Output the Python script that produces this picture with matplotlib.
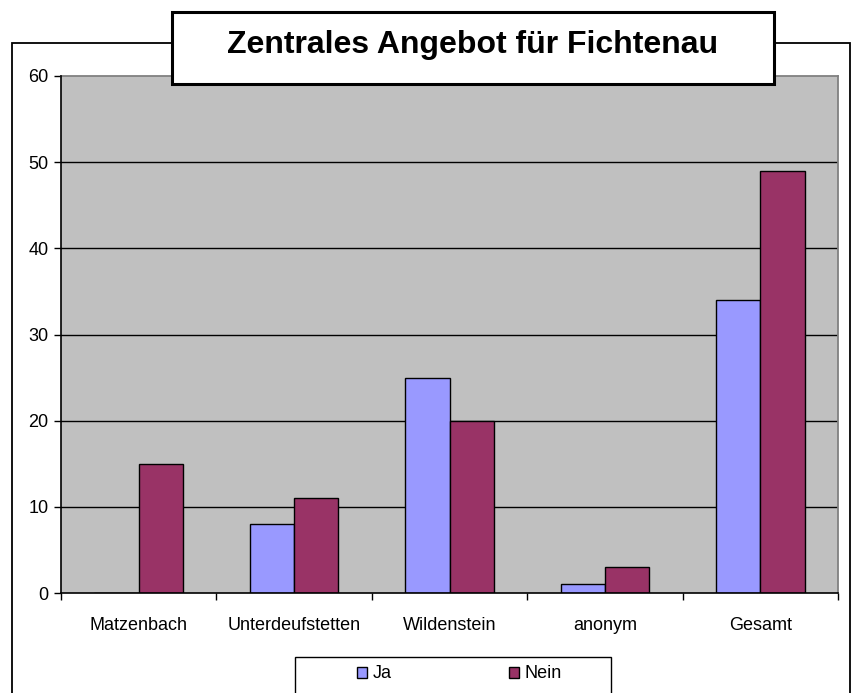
import matplotlib
matplotlib.use("Agg")
import matplotlib.pyplot as plt
from matplotlib.patches import Rectangle
import numpy as np

plt.rcParams['font.family'] = ['Liberation Sans', 'DejaVu Sans']

categories = ["Matzenbach", "Unterdeufstetten", "Wildenstein", "anonym", "Gesamt"]
ja = [0, 8, 25, 1, 34]
nein = [15, 11, 20, 3, 49]
yticks = [0, 10, 20, 30, 40, 50, 60]
title = "Zentrales Angebot für Fichtenau"
series_names = ["Ja", "Nein"]

W, H = 855, 693
fig = plt.figure(figsize=(W / 100, H / 100), dpi=100)
fig.patch.set_facecolor("white")

def fx(px):
    return px / W

def fy(py):
    return 1 - py / H

# outer chart frame
fig.patches.append(Rectangle((fx(12), fy(705)), fx(850) - fx(12), fy(43) - fy(705),
                             transform=fig.transFigure, fill=False, ec="black", lw=1.3, zorder=0))

ax = fig.add_axes([fx(61), fy(593), fx(838) - fx(61), fy(76) - fy(593)])
ax.set_facecolor("#C0C0C0")

x = np.arange(len(categories))
w = 0.2857
b1 = ax.bar(x - w / 2, ja, w, color="#9999FF", edgecolor="black", linewidth=1.0, zorder=3, label=series_names[0])
b2 = ax.bar(x + w / 2, nein, w, color="#993366", edgecolor="black", linewidth=1.0, zorder=3, label=series_names[1])

ax.set_xlim(-0.5, len(categories) - 0.5)
ax.set_ylim(0, 60)
ax.set_yticks(yticks)
ax.set_yticklabels([str(v) for v in yticks], fontsize=13)
for v in yticks[1:-1]:
    ax.axhline(v, color="black", lw=1.0, zorder=1)

ax.set_xticks(np.arange(len(categories) + 1) - 0.5)
ax.set_xticklabels([])
ax.set_xticks(x, minor=True)
ax.set_xticklabels(categories, minor=True, fontsize=13)
ax.tick_params(axis="x", which="major", length=5, width=1, color="black", direction="out")
ax.tick_params(axis="x", which="minor", length=0, pad=17)
ax.tick_params(axis="y", length=5, width=1, color="black", direction="out", pad=4)

for s in ["top", "right"]:
    ax.spines[s].set_color("#808080")
    ax.spines[s].set_linewidth(1.3)
for s in ["left", "bottom"]:
    ax.spines[s].set_color("black")
    ax.spines[s].set_linewidth(1.2)
    ax.spines[s].set_zorder(4)

# title box
fig.patches.append(Rectangle((fx(172), fy(84)), fx(774) - fx(172), fy(12) - fy(84),
                             transform=fig.transFigure, fc="white", ec="black", lw=2.2, zorder=5))
fig.text(fx(473), fy(53), title, ha="center", va="baseline", fontsize=23,
         fontweight="bold", zorder=6)

# legend frame
fig.patches.append(Rectangle((fx(295), fy(705)), fx(611) - fx(295), fy(657) - fy(705),
                             transform=fig.transFigure, fc="white", ec="black", lw=1.0, zorder=5))
leg = fig.legend(handles=[b1, b2], labels=series_names, loc="center left",
                 bbox_to_anchor=(fx(357), fy(674)), ncol=2, frameon=False,
                 fontsize=13, handlelength=0.55, handleheight=0.55,
                 handletextpad=0.3, columnspacing=6.5, borderpad=0, borderaxespad=0)
leg.set_zorder(6)

fig.savefig("out.png", dpi=100, facecolor="white")
